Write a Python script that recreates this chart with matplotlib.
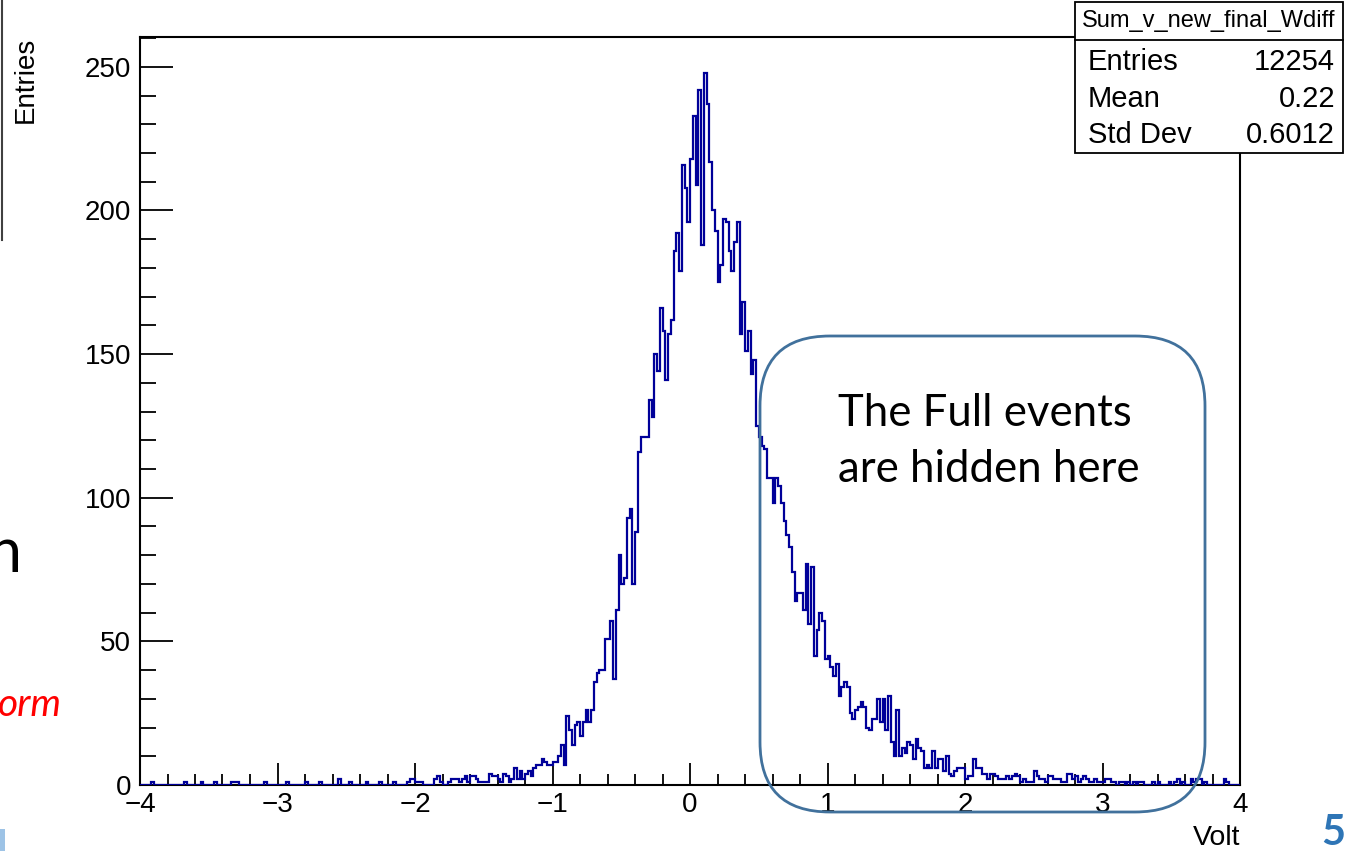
import numpy as np
import matplotlib
matplotlib.use("Agg")
import matplotlib.pyplot as plt
from matplotlib.patches import Rectangle, FancyBboxPatch
from matplotlib.lines import Line2D
from matplotlib.transforms import IdentityTransform
from matplotlib.ticker import MultipleLocator, FixedLocator

# ---------------- data ----------------
x_min, x_max, n_bins = -4.0, 4.0, 400

counts_left = [  # x from -4.00 to -1.00
    0, 0, 0, 0, 1, 0, 0, 0, 0, 0,
    0, 0, 0, 0, 0, 0, 1, 0, 0, 0,
    0, 0, 1, 0, 0, 0, 0, 1, 0, 0,
    0, 0, 0, 1, 1, 1, 0, 0, 0, 0,
    0, 0, 0, 0, 0, 1, 0, 0, 0, 0,
    0, 0, 0, 1, 0, 0, 0, 0, 0, 0,
    1, 0, 0, 0, 0, 1, 0, 0, 0, 0,
    0, 0, 2, 0, 0, 0, 1, 0, 0, 0,
    0, 0, 1, 0, 0, 0, 0, 1, 0, 0,
    0, 0, 1, 0, 0, 0, 0, 1, 2, 2,
    1, 1, 1, 0, 0, 0, 0, 2, 3, 1,
    0, 0, 1, 2, 2, 2, 1, 2, 3, 1,
    3, 3, 2, 1, 1, 1, 1, 4, 3, 3,
    2, 1, 4, 3, 1, 2, 6, 2, 5, 2,
    4, 5, 3, 6, 7, 7, 9, 8, 7, 7,
]
counts_core = [  # x from -1.00 to 1.00
    8, 8, 10, 14, 7, 24, 19, 14, 21, 22,
    17, 22, 26, 22, 26, 36, 39, 40, 40, 51,
    51, 57, 37, 61, 80, 70, 72, 93, 96, 70,
    88, 116, 121, 121, 121, 134, 128, 150, 144, 166,
    158, 141, 157, 162, 186, 192, 179, 216, 208, 196,
    218, 233, 209, 242, 188, 248, 237, 217, 200, 193,
    175, 181, 197, 196, 186, 179, 189, 196, 157, 168,
    151, 158, 143, 148, 125, 121, 118, 117, 107, 107,
    98, 107, 104, 98, 92, 87, 83, 74, 64, 67,
    67, 61, 77, 56, 76, 45, 54, 60, 57, 44,
]
counts_right = [  # x from 1.00 to 4.00
    45, 41, 38, 42, 31, 34, 36, 34, 25, 23,
    26, 27, 29, 27, 20, 19, 23, 23, 30, 22,
    30, 19, 31, 15, 10, 26, 10, 13, 11, 15,
    14, 9, 16, 13, 12, 6, 7, 6, 12, 6,
    9, 9, 5, 10, 4, 3, 5, 6, 6, 6,
    2, 3, 3, 9, 6, 6, 4, 4, 2, 4,
    4, 3, 2, 2, 2, 3, 2, 3, 4, 3,
    1, 2, 1, 1, 1, 5, 3, 2, 2, 1,
    3, 3, 2, 2, 2, 1, 1, 4, 4, 2,
    3, 1, 2, 3, 2, 1, 1, 2, 1, 1,
    1, 2, 2, 1, 1, 0, 1, 1, 0, 1,
    0, 1, 0, 1, 1, 0, 0, 0, 1, 0,
    1, 0, 0, 0, 1, 0, 1, 2, 0, 1,
    0, 0, 2, 1, 2, 2, 0, 1, 0, 0,
    0, 0, 0, 0, 2, 1, 0, 0, 0, 0,
]
counts = counts_left + counts_core + counts_right

x_ticks = [-4, -3, -2, -1, 0, 1, 2, 3, 4]
y_ticks = [0, 50, 100, 150, 200, 250]
x_title = "Volt"
y_title = "Entries"
hist_name = "Sum_v_new_final_Wdiff"
stat_labels = ["Entries", "Mean", "Std Dev"]
stat_values = ["12254", "0.22", "0.6012"]
note_lines = ["The Full events", "are hidden here"]

# ---------------- figure ----------------
plt.rcParams["font.family"] = ["Liberation Sans", "DejaVu Sans"]
W, H = 1357, 851
fig = plt.figure(figsize=(W / 100, H / 100), dpi=100)


def fx(px):
    return px / W


def fy(py):
    return 1 - py / H


ax = fig.add_axes([fx(140), fy(785), 1100 / W, 748 / H])
edges = np.linspace(x_min, x_max, n_bins + 1)
ax.stairs(counts, edges, color="#000099", lw=1.6, baseline=None, zorder=3)
ax.set_xlim(x_min, x_max)
ax.set_ylim(0, 1.05 * max(counts))

for s in ax.spines.values():
    s.set_linewidth(1.5)
    s.set_color("black")

ax.xaxis.set_major_locator(FixedLocator(x_ticks))
ax.xaxis.set_minor_locator(MultipleLocator(0.2))
ax.yaxis.set_major_locator(FixedLocator(y_ticks))
ax.yaxis.set_minor_locator(MultipleLocator(10))
ax.tick_params(axis="y", which="major", direction="in", length=23.5, width=1.3,
               labelsize=20, pad=6.5)
ax.tick_params(axis="y", which="minor", direction="in", length=11.8, width=1.3)
ax.tick_params(axis="x", which="major", direction="in", length=16, width=1.3,
               labelsize=20, pad=5)
ax.tick_params(axis="x", which="minor", direction="in", length=8, width=1.3)
ax.set_xticklabels([f"{t}".replace("-", "\u2212") for t in x_ticks])
ax.set_yticklabels([str(t) for t in y_ticks])

# axis titles
fig.text(fx(1240), fy(838), x_title, ha="right", va="center", fontsize=20.5)
fig.text(fx(26), fy(37), y_title, rotation=90, ha="center", va="top", fontsize=20)

# stats box
box = Rectangle((1075, H - 153), 268, 151, fc="white", ec="black", lw=1.3,
                transform=IdentityTransform(), zorder=5)
fig.add_artist(box)
fig.add_artist(Line2D([1075, 1343], [H - 40, H - 40], color="black", lw=1.3,
                      transform=IdentityTransform(), zorder=6))
fig.text(fx(1209), fy(21), hist_name, ha="center", va="center", fontsize=17, zorder=7)
row_y = [62, 99, 135]
for lab, val, yy in zip(stat_labels, stat_values, row_y):
    fig.text(fx(1088), fy(yy), lab, ha="left", va="center", fontsize=21, zorder=7)
    fig.text(fx(1335), fy(yy), val, ha="right", va="center", fontsize=21, zorder=7)

# rounded callout box
callout = FancyBboxPatch((760, H - 812), 445, 476,
                         boxstyle="round,pad=0,rounding_size=70",
                         fc="none", ec="#41719C", lw=2.0,
                         transform=IdentityTransform(), zorder=8)
fig.add_artist(callout)
for line, yy in zip(note_lines, [413, 470]):
    fig.text(fx(838), fy(yy), line, ha="left", va="center", fontsize=31.5,
             family=["Lato", "DejaVu Sans"], color="black", zorder=9)

# slide residue at the edges
fig.add_artist(Line2D([1.5, 1.5], [H - 240, H], color="#404040", lw=1.5,
                      transform=IdentityTransform()))
fig.text(fx(22), fy(572), "n", ha="right", va="baseline", fontsize=44,
         family=["Lato", "DejaVu Sans"], color="black")
fig.text(fx(62), fy(716), "orm", ha="right", va="baseline", fontsize=28,
         family=["Lato", "DejaVu Sans"], style="italic", color="#FF0000")
fig.text(fx(1345), fy(845), "5", ha="right", va="baseline", fontsize=30,
         family=["Lato", "DejaVu Sans"], weight="bold", color="#2E75B6")
fig.add_artist(Rectangle((0, 0), 5, 22, fc="#9DC3E6", ec="none",
                         transform=IdentityTransform()))

fig.savefig("out.png", dpi=100)
